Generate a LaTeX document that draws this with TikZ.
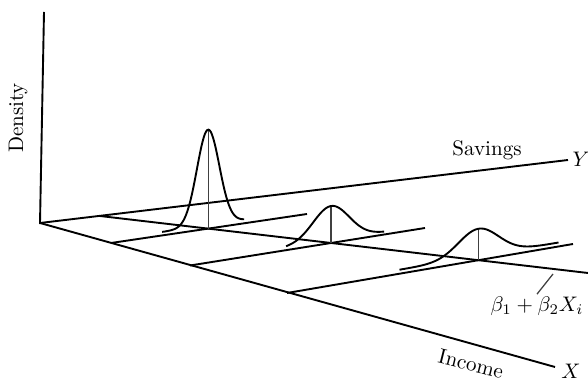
\documentclass[tikz,border=0pt]{standalone}
\begin{document}
\begin{tikzpicture}[x=0.475pt, y=-0.475pt,
  ax/.style={line width=0.9pt},
  dens/.style={line width=0.9pt, smooth},
  mean/.style={line width=0.6pt, black!75},
  lab/.style={inner sep=1pt}]
\useasboundingbox (0,0) rectangle (588,382);

\coordinate (O) at (40,223);
\coordinate (zt) at (44,12);
\coordinate (yt) at (568,160);
\coordinate (xt) at (555,367);
\coordinate (r0) at (100,216);
\coordinate (r1) at (588,273);
\coordinate (g1a) at (111,243);
\coordinate (g1b) at (307,214);
\coordinate (g2a) at (190,265.5);
\coordinate (g2b) at (425,228);
\coordinate (g3a) at (287,293);
\coordinate (g3b) at (573,244);
\coordinate (m1) at (intersection of g1a--g1b and r0--r1);
\coordinate (m2) at (intersection of g2a--g2b and r0--r1);
\coordinate (m3) at (intersection of g3a--g3b and r0--r1);
\coordinate (p1) at (553,274);

\draw[ax] (zt) -- (O) -- (yt);
\draw[ax] (O) -- (xt);
\draw[ax] (r0) -- (r1);
\draw[ax] (g1a) -- (g1b);
\draw[ax] (g2a) -- (g2b);
\draw[ax] (g3a) -- (g3b);

\draw[mean] (m1) -- ++(0,-99);
\draw[mean] (m2) -- ++(0,-37);
\draw[mean] (m3) -- ++(0,-31.5);
\draw[dens, shift={(m1)}] plot[domain=-46:36, samples=70]
  (\x, {-0.148*(\x)-3.5-95.5*exp(-(\x)*(\x)/250)});
\draw[dens, shift={(m2)}] plot[domain=-45:53, samples=60]
  (\x, {-0.16*(\x)-2.5-34.5*exp(-(\x)*(\x)/648)});
\draw[dens, shift={(m3)}] plot[domain=-79:80, samples=70]
  (\x, {-0.171*(\x)-4-27.5*exp(-(\x)*(\x)/800)});

\node[lab, rotate=90] (dens) at (18,118) {Density};
\node[lab] (sav) at (487,150) {Savings};
\node[lab] (ylab) at (581,159) {$Y$};
\node[lab, rotate=-14] (inc) at (471,364) {Income};
\node[lab] (xlab) at (571,371) {$X$};
\node[lab] (reg) at (537,306) {$\beta_1 + \beta_2 X_i$};
\draw[mean] (reg.north) -- (p1);
\end{tikzpicture}
\end{document}
